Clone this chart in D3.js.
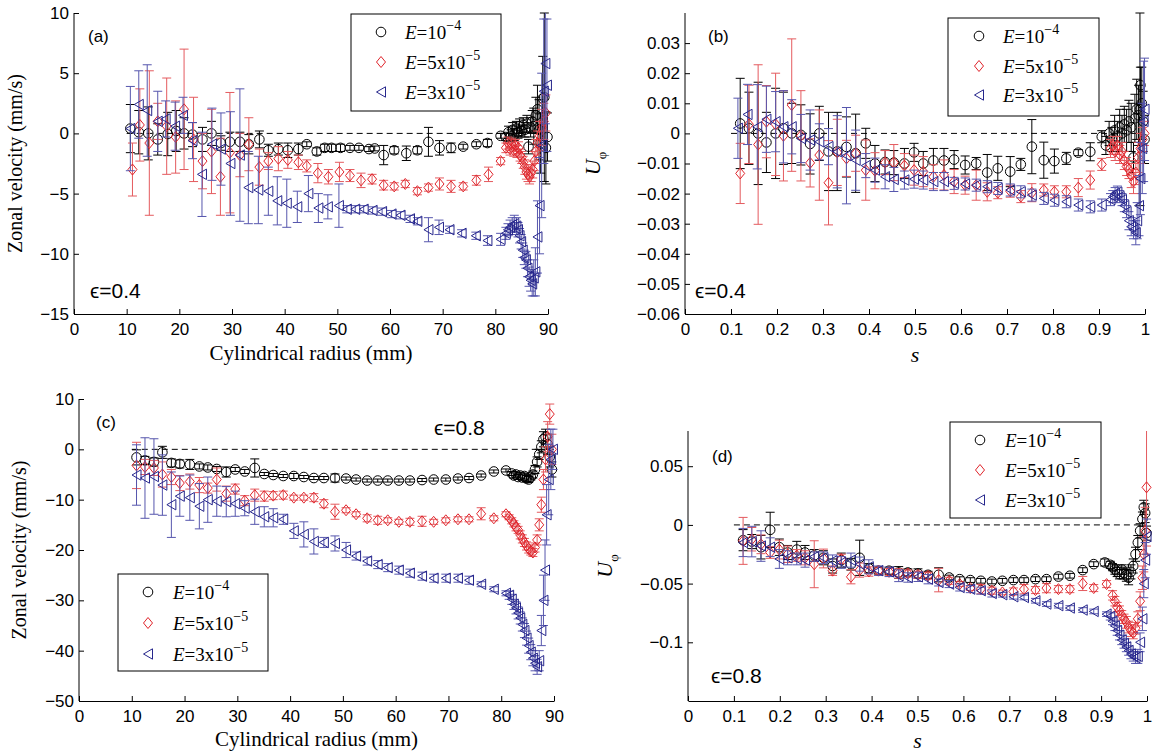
<!DOCTYPE html>
<html>
<head>
<meta charset="utf-8">
<script src="https://cdn.jsdelivr.net/npm/d3@7/dist/d3.min.js"></script>
<style>
  body { margin: 0; background: #fff; }
</style>
</head>
<body>
<svg id="fig" width="1153" height="755"></svg>
<script>
// each point: [radius or s, zonal velocity, error]
// panel (a) eps = 0.4, mm and mm/s
const a1e4 = [[10.7,0.4,2],[12.3,0.1,1.8],[14.1,0,2.2],[15.9,-0.5,1.3],[17.8,-0.05,1.8],[19.4,0.2,1.7],[20.9,0,1.3],[22.5,-0.1,1],[24.4,-0.5,1],[26.1,0,1],[27.9,-0.8,0.6],[29.6,-0.7,0.8],[31.5,-0.7,0.8],[33.2,-0.9,0.8],[35.2,-0.5,0.7],[36.9,-1.4,0.5],[38.8,-1.3,0.5],[40.6,-1.4,0.6],[42.6,-1.3,0.5],[44.2,-0.9,0.2],[46.1,-1.5,0.3],[47.6,-1.2,0.3],[48.9,-1.2,0.3],[50.6,-1.2,0.3],[52.4,-1.2,0.2],[54.1,-1.2,0.2],[56.0,-1.3,0.2],[57.1,-1.25,0.2],[58.8,-1.8,0.8],[60.8,-1.4,0.3],[63.1,-1.65,0.6],[65.2,-1.4,0.3],[67.3,-0.7,1.2],[69.4,-1.2,0.6],[71.6,-1.2,0.4],[73.9,-1.1,0.2],[76.4,-0.9,0.2],[78.5,-0.8,0.3],[81.0,-0.2,0.2],
  [82,-0.3,0.3],[82.5,0.1,0.5],[83,-0.2,0.5],[83.3,0.3,0.6],[83.6,-0.1,0.5],[84,0.4,0.6],[84.3,0.1,0.5],[84.6,0.6,0.6],[85,0.2,0.5],[85.3,0.7,0.6],[85.6,0.3,0.6],[86,0.8,0.7],[86.3,-1.1,0.6],[86.7,0.5,0.8],[87,1.0,0.9],[87.3,0.6,1.5],[87.7,1.5,1.5],[88,2.0,2],[88.3,0.3,2.5],[88.6,-0.8,2.5],[89,2.9,3.5],[89.3,3.0,7],[89.6,-1.2,3],[89.9,-0.3,2]];
const a5e5 = [[11.1,-3.0,2.2],[12.5,0.7,3],[14.3,-0.8,6],[15.9,1.0,1.5],[17.6,0.6,4],[19.3,-0.3,3],[20.9,2.0,5],[22.7,-0.5,3.5],[24.4,-2.3,2.3],[26.1,-1.5,3.5],[27.8,-3.6,3.2],[29.6,-1.6,5],[31.5,-1.8,1.8],[33.2,-0.9,2.2],[35.2,-2.8,1.5],[36.9,-2.3,0.7],[38.8,-2.1,1.0],[40.6,-2.2,0.7],[42.6,-2.4,0.6],[44.2,-2.7,0.5],[46.3,-3.3,0.8],[48.3,-3.6,0.6],[50.4,-3.2,0.8],[52.4,-3.5,0.5],[54.5,-3.9,0.6],[56.6,-3.8,0.4],[58.8,-4.3,0.4],[60.8,-4.4,0.3],[62.9,-4.2,0.3],[65.2,-4.8,0.3],[67.3,-4.5,0.3],[69.4,-4.2,0.5],[71.6,-4.4,0.5],[73.9,-4.4,0.3],[76.4,-3.9,0.4],[78.7,-3.4,0.6],[81.0,-2.3,0.3],
  [82,-1.2,0.4],[82.4,-0.8,0.5],[82.8,-1.3,0.5],[83.1,-0.9,0.5],[83.5,-1.4,0.5],[83.8,-1.0,0.5],[84.1,-1.5,0.5],[84.4,-1.2,0.5],[84.7,-1.8,0.5],[85,-2.0,0.5],[85.3,-2.4,0.5],[85.6,-2.8,0.6],[85.9,-3.2,0.6],[86.2,-3.4,0.6],[86.5,-3.6,0.6],[86.8,-3.3,0.7],[87.1,-3.0,0.7],[87.4,-2.3,0.8],[87.7,-1.5,1],[88,-0.8,1],[88.4,-0.2,1.2],[88.8,0.5,1.5],[89.2,1.0,1.5],[89.6,1.7,1.5]];
const a3e5 = [[10.7,0.4,3.5],[12.3,2.4,2.8],[13.9,1.9,3.8],[15.9,1.0,2.5],[17.4,1.2,1.5],[19.2,0.6,2],[20.7,1.5,1.5],[22.5,-0.6,1.5],[24.3,-3.4,3.5],[26.2,-0.9,3],[27.9,-1.3,3],[29.7,-2.5,4.3],[31.5,-1.8,5.5],[33.1,-4.5,3],[35.0,-4.7,2.8],[36.9,-4.8,2],[38.6,-5.6,2],[40.4,-5.8,2],[42.4,-6.1,1.3],[44.5,-5.0,1.5],[46.4,-6.2,1.2],[48.2,-6.1,1.0],[50.3,-6.0,1.8],[51.8,-6.3,0.3],[53.4,-6.3,0.3],[55.0,-6.3,0.3],[56.7,-6.4,0.3],[58.5,-6.5,0.3],[60.3,-6.7,0.3],[62.0,-6.8,0.3],[63.8,-7.1,0.3],[65.2,-7.3,0.3],[67.3,-8.0,1],[69.3,-7.8,0.6],[71.3,-8.0,0.3],[73.6,-8.3,0.3],[76.3,-8.5,0.3],[78.5,-8.9,0.4],[81.0,-8.8,0.5],
  [82,-8.3,0.5],[82.4,-8.0,0.5],[82.8,-7.8,0.6],[83.2,-7.6,0.6],[83.6,-7.5,0.7],[84,-7.7,0.7],[84.3,-8.0,0.6],[84.6,-8.5,0.6],[84.9,-9.0,0.6],[85.2,-9.7,0.6],[85.5,-10.3,0.6],[85.8,-10.5,0.7],[86.1,-11.2,0.7],[86.4,-11.9,0.8],[86.7,-12.2,0.9],[87,-12.5,1],[87.3,-12.0,1.5],[87.6,-11.5,2],[88,-8.6,3],[88.4,-6.0,4],[88.8,-1.0,6],[89.2,3.5,6],[89.5,5.8,5],[89.8,4.0,5.5]];

// panel (b) eps = 0.4, nondimensional
const b1e4 = [[0.12,0.0033,0.015],[0.139,0.0017,0.012],[0.159,0,0.017],[0.177,-0.003,0.01],[0.197,0,0.015],[0.214,0.0017,0.012],[0.232,0,0.01],[0.252,-0.0005,0.01],[0.272,-0.0035,0.01],[0.292,0,0.009],[0.312,-0.006,0.013],[0.331,-0.006,0.013],[0.351,-0.0045,0.01],[0.371,-0.0066,0.013],[0.393,-0.0033,0.005],[0.413,-0.01,0.006],[0.435,-0.0095,0.004],[0.454,-0.0097,0.004],[0.477,-0.01,0.005],[0.498,-0.0063,0.003],[0.518,-0.01,0.004],[0.54,-0.009,0.004],[0.563,-0.009,0.004],[0.585,-0.0087,0.003],[0.609,-0.0105,0.003],[0.633,-0.01,0.002],[0.657,-0.013,0.006],[0.68,-0.0116,0.004],[0.707,-0.0127,0.005],[0.73,-0.0103,0.002],[0.754,-0.0044,0.009],[0.78,-0.0089,0.006],[0.803,-0.0092,0.004],[0.829,-0.0083,0.002],[0.855,-0.0064,0.001],[0.881,-0.0061,0.003],[0.906,-0.0011,0.002],
  [0.915,-0.004,0.003],[0.922,0,0.004],[0.928,-0.002,0.004],[0.934,0.001,0.005],[0.94,-0.001,0.005],[0.945,0.002,0.006],[0.95,0,0.006],[0.955,0.003,0.006],[0.96,0.001,0.007],[0.965,0.004,0.007],[0.97,0.002,0.008],[0.975,-0.008,0.005],[0.978,0.005,0.008],[0.982,0.008,0.01],[0.986,0.006,0.01],[0.989,0.008,0.032],[0.99,0.016,0.006],[0.993,0.01,0.012],[0.996,0.004,0.01],[0.999,-0.002,0.008]];
const b5e5 = [[0.12,-0.0133,0.01],[0.139,0.003,0.013],[0.159,-0.0037,0.0265],[0.177,0.0039,0.012],[0.197,0.003,0.017],[0.214,-0.0008,0.015],[0.232,0.0094,0.022],[0.252,-0.0008,0.015],[0.272,-0.0098,0.008],[0.292,-0.0072,0.015],[0.312,-0.0164,0.014],[0.331,-0.0063,0.011],[0.351,-0.0083,0.006],[0.371,-0.0066,0.006],[0.393,-0.0122,0.01],[0.413,-0.0124,0.006],[0.435,-0.0097,0.004],[0.454,-0.0097,0.006],[0.477,-0.0107,0.004],[0.498,-0.0122,0.005],[0.518,-0.0127,0.005],[0.54,-0.0144,0.004],[0.563,-0.0138,0.005],[0.585,-0.016,0.004],[0.609,-0.0172,0.003],[0.633,-0.0172,0.005],[0.657,-0.0194,0.003],[0.68,-0.0197,0.002],[0.707,-0.0192,0.002],[0.73,-0.021,0.002],[0.754,-0.0197,0.003],[0.78,-0.0188,0.002],[0.803,-0.0194,0.002],[0.829,-0.0194,0.002],[0.855,-0.018,0.003],[0.881,-0.0155,0.003],[0.906,-0.0103,0.002],
  [0.925,-0.005,0.003],[0.93,-0.004,0.003],[0.935,-0.006,0.003],[0.94,-0.004,0.003],[0.945,-0.007,0.003],[0.95,-0.006,0.003],[0.955,-0.009,0.003],[0.96,-0.011,0.003],[0.965,-0.012,0.003],[0.97,-0.014,0.004],[0.975,-0.016,0.004],[0.98,-0.013,0.004],[0.985,-0.008,0.005],[0.99,-0.005,0.005],[0.995,-0.002,0.004],[0.999,0,0.004]];
const b3e5 = [[0.115,0.0017,0.01],[0.136,0.0063,0.01],[0.157,0.0022,0.014],[0.177,0.0047,0.011],[0.197,0.0039,0.01],[0.214,0.0022,0.012],[0.232,0.0022,0.009],[0.252,-0.0017,0.008],[0.272,-0.0022,0.01],[0.292,-0.0028,0.006],[0.312,-0.0044,0.006],[0.331,-0.0061,0.012],[0.351,-0.0074,0.016],[0.371,-0.0089,0.01],[0.393,-0.0107,0.004],[0.413,-0.0122,0.004],[0.435,-0.0144,0.004],[0.454,-0.0153,0.004],[0.477,-0.0155,0.003],[0.498,-0.0152,0.003],[0.518,-0.0155,0.003],[0.54,-0.016,0.003],[0.563,-0.016,0.003],[0.585,-0.0166,0.002],[0.609,-0.0168,0.002],[0.633,-0.0172,0.002],[0.657,-0.0177,0.002],[0.68,-0.0183,0.002],[0.707,-0.0188,0.002],[0.73,-0.0194,0.002],[0.754,-0.0205,0.002],[0.78,-0.0216,0.002],[0.803,-0.0222,0.002],[0.829,-0.0227,0.002],[0.855,-0.0238,0.002],[0.881,-0.0244,0.002],[0.906,-0.0238,0.002],
  [0.925,-0.022,0.002],[0.93,-0.021,0.002],[0.935,-0.02,0.002],[0.94,-0.0195,0.002],[0.945,-0.021,0.002],[0.95,-0.022,0.002],[0.955,-0.024,0.002],[0.96,-0.026,0.002],[0.965,-0.029,0.003],[0.97,-0.031,0.003],[0.975,-0.032,0.003],[0.98,-0.033,0.004],[0.983,-0.029,0.006],[0.987,-0.024,0.01],[0.99,-0.015,0.012],[0.994,-0.005,0.015],[0.997,0.004,0.02],[0.999,0.008,0.017]];

// panel (c) eps = 0.8, mm and mm/s
const c1e4 = [[10.9,-1.6,1.5],[12.5,-2.2,0.8],[14.2,-2.5,0.8],[15.8,-0.6,1.2],[17.5,-2.7,0.8],[19.1,-2.9,0.8],[21.0,-3.0,1.0],[22.8,-3.4,0.5],[24.4,-3.6,0.5],[26.1,-3.9,0.5],[27.9,-4.5,1.0],[29.6,-4.0,0.4],[31.4,-4.4,0.4],[33.3,-3.7,1.8],[35.1,-4.9,0.3],[36.8,-5.1,0.3],[38.7,-5.3,0.3],[40.7,-5.3,0.5],[42.6,-5.5,0.3],[44.5,-5.7,0.3],[46.4,-5.7,0.3],[48.5,-5.7,0.8],[50.6,-5.8,0.3],[52.5,-6.0,0.3],[54.6,-6.2,0.3],[56.6,-6.2,0.3],[58.5,-6.2,0.3],[60.6,-6.2,0.3],[62.7,-6.2,0.3],[65.0,-6.1,0.3],[67.2,-6.0,0.3],[69.5,-6.0,0.3],[71.8,-5.8,0.3],[73.9,-5.7,0.3],[76.2,-5.2,0.3],[78.6,-4.4,0.3],[80.9,-4.2,0.3],
  [82,-4.8,0.4],[82.4,-5.2,0.5],[82.8,-5.0,0.5],[83.2,-5.5,0.5],[83.6,-5.2,0.5],[84,-5.6,0.5],[84.4,-5.3,0.6],[84.8,-5.8,0.6],[85.2,-6.0,0.6],[85.6,-5.5,0.6],[86,-5.0,0.7],[86.4,-4.0,0.8],[86.8,-2.5,1],[87.2,-1.0,1],[87.6,0.5,1.2],[88,2.0,1.5],[88.4,2.5,1.5],[88.8,1.0,2],[89.2,-1.5,2],[89.6,-4.0,1.5]];
const c5e5 = [[10.9,-3.2,4.6],[12.5,-3.5,1.5],[14.2,-3.7,1.5],[15.8,-5.0,2.5],[17.5,-5.5,1.5],[19.1,-6.7,1.5],[21.0,-6.4,1.5],[22.8,-7.1,1.5],[24.4,-7.7,1.0],[26.1,-6.0,2.3],[27.9,-8.8,1.5],[29.6,-7.9,1.0],[31.4,-10.2,1.0],[33.3,-9.1,1.2],[35.1,-9.3,1.0],[36.8,-9.2,0.8],[38.7,-9.1,0.8],[40.7,-9.6,0.5],[42.6,-9.6,0.5],[44.5,-9.6,0.8],[46.4,-10.8,0.8],[48.5,-12.4,1.5],[50.6,-12.1,0.5],[52.5,-12.9,0.5],[54.6,-13.7,0.7],[56.6,-14.1,0.8],[58.5,-14.1,0.5],[60.6,-14.4,0.5],[62.7,-14.4,0.7],[65.0,-14.3,1.0],[67.2,-14.4,0.5],[69.5,-14.1,0.5],[71.8,-13.9,0.5],[73.9,-13.9,0.5],[76.2,-12.8,1.2],[78.6,-13.7,0.5],[80.9,-12.9,0.5],
  [81.5,-13.5,0.5],[82,-14.2,0.6],[82.4,-14.8,0.6],[82.8,-15.5,0.7],[83.2,-16.0,0.7],[83.6,-17.0,0.8],[84,-17.8,0.8],[84.4,-18.5,0.8],[84.8,-19.2,0.8],[85.2,-19.8,0.8],[85.6,-20.2,0.8],[86,-20.5,0.8],[86.4,-19.5,0.9],[86.8,-18.0,1],[87.2,-15.0,1.2],[87.6,-11.0,1.5],[88,-6.0,2],[88.4,-2.0,2.5],[88.8,2.5,3],[89.2,7.0,2],[89.6,0.0,3]];
const c3e5 = [[10.9,-5.1,6],[12.5,-5.7,8],[14.2,-5.4,7.5],[15.8,-7.1,6],[17.5,-11.0,6.5],[19.1,-9.3,4],[21.0,-9.6,4.5],[22.8,-11.3,4.5],[24.4,-10.0,4.5],[26.1,-10.3,3.0],[27.9,-10.4,3.0],[29.6,-10.8,2.5],[31.4,-11.7,1.5],[33.3,-12.4,2.5],[35.1,-13.4,2.0],[36.8,-13.6,1.8],[38.7,-13.9,1.0],[40.7,-16.2,1.5],[42.6,-16.9,2.5],[44.5,-18.3,2.5],[46.4,-18.5,1.0],[48.5,-18.7,1.5],[50.6,-20.0,1.5],[52.5,-21.2,0.8],[54.6,-22.2,0.8],[56.6,-22.9,0.8],[58.5,-23.5,0.8],[60.6,-24.0,0.8],[62.7,-24.6,0.8],[65.0,-25.2,0.8],[67.2,-25.6,0.8],[69.5,-25.6,0.8],[71.8,-25.6,0.8],[73.9,-26.0,0.8],[76.2,-26.8,0.5],[78.6,-27.8,0.5],[80.9,-28.6,0.5],
  [81.5,-29.0,0.8],[82,-29.8,1.0],[82.4,-30.8,1.0],[82.8,-31.5,1.2],[83.2,-32.5,1.2],[83.6,-33.5,1.2],[84,-34.8,1.3],[84.4,-36.0,1.4],[84.8,-37.5,1.4],[85.2,-39.0,1.5],[85.6,-40.3,1.5],[86,-41.5,1.5],[86.4,-42.5,1.5],[86.8,-43.2,1.5],[87.2,-42.0,2],[87.6,-36.0,3],[88,-30.0,5],[88.3,-24.0,6],[88.6,-13.0,6],[89,-6.0,7],[89.4,-2.0,6],[89.8,0.0,4]];

// panel (d) eps = 0.8, nondimensional
const d1e4 = [[0.12,-0.013,0.009],[0.139,-0.0142,0.006],[0.159,-0.019,0.01],[0.179,-0.0042,0.015],[0.199,-0.019,0.007],[0.217,-0.0235,0.006],[0.237,-0.021,0.007],[0.255,-0.0235,0.006],[0.275,-0.026,0.005],[0.295,-0.028,0.006],[0.315,-0.035,0.006],[0.334,-0.03,0.006],[0.355,-0.0335,0.005],[0.374,-0.028,0.015],[0.394,-0.037,0.004],[0.415,-0.039,0.003],[0.438,-0.039,0.003],[0.459,-0.0405,0.005],[0.479,-0.0405,0.003],[0.501,-0.0414,0.004],[0.523,-0.0425,0.003],[0.546,-0.0425,0.006],[0.569,-0.0448,0.002],[0.592,-0.0462,0.002],[0.615,-0.047,0.002],[0.638,-0.0476,0.002],[0.662,-0.0482,0.002],[0.685,-0.0476,0.002],[0.709,-0.047,0.002],[0.732,-0.047,0.002],[0.757,-0.0462,0.002],[0.781,-0.0462,0.002],[0.807,-0.044,0.002],[0.832,-0.0433,0.002],[0.86,-0.0385,0.002],[0.884,-0.0334,0.002],[0.908,-0.032,0.003],
  [0.92,-0.034,0.003],[0.925,-0.036,0.003],[0.93,-0.038,0.004],[0.935,-0.04,0.004],[0.94,-0.042,0.004],[0.945,-0.038,0.004],[0.95,-0.041,0.005],[0.955,-0.043,0.005],[0.96,-0.045,0.006],[0.965,-0.04,0.006],[0.97,-0.035,0.006],[0.975,-0.025,0.006],[0.98,-0.015,0.006],[0.985,-0.005,0.006],[0.99,0.005,0.006],[0.993,0.015,0.006],[0.996,0.01,0.008],[0.999,-0.007,0.006]];
const d5e5 = [[0.12,-0.0136,0.02],[0.139,-0.0122,0.01],[0.159,-0.0165,0.008],[0.179,-0.0235,0.005],[0.199,-0.021,0.008],[0.217,-0.025,0.007],[0.237,-0.026,0.005],[0.255,-0.028,0.006],[0.275,-0.0335,0.02],[0.295,-0.0286,0.008],[0.315,-0.039,0.004],[0.334,-0.029,0.004],[0.355,-0.0442,0.006],[0.374,-0.0385,0.006],[0.394,-0.0397,0.004],[0.415,-0.039,0.003],[0.438,-0.04,0.003],[0.459,-0.0414,0.004],[0.479,-0.0414,0.003],[0.501,-0.0425,0.003],[0.523,-0.0433,0.003],[0.546,-0.047,0.01],[0.569,-0.0476,0.003],[0.592,-0.0504,0.002],[0.615,-0.0538,0.002],[0.638,-0.0547,0.004],[0.662,-0.056,0.003],[0.685,-0.0575,0.002],[0.709,-0.0567,0.003],[0.732,-0.0547,0.004],[0.757,-0.0555,0.003],[0.781,-0.0538,0.004],[0.807,-0.0547,0.003],[0.832,-0.0547,0.003],[0.86,-0.0499,0.006],[0.884,-0.0538,0.003],[0.912,-0.0504,0.003],
  [0.925,-0.06,0.004],[0.93,-0.065,0.004],[0.935,-0.07,0.004],[0.94,-0.073,0.004],[0.945,-0.077,0.004],[0.95,-0.08,0.004],[0.955,-0.083,0.005],[0.96,-0.087,0.005],[0.965,-0.09,0.005],[0.97,-0.092,0.005],[0.975,-0.088,0.005],[0.98,-0.08,0.006],[0.985,-0.065,0.008],[0.99,-0.045,0.01],[0.993,-0.025,0.015],[0.996,-0.005,0.02],[0.999,0.032,0.05]];
const d3e5 = [[0.12,-0.015,0.012],[0.139,-0.0142,0.013],[0.159,-0.018,0.013],[0.179,-0.019,0.008],[0.199,-0.029,0.008],[0.217,-0.028,0.006],[0.237,-0.029,0.005],[0.255,-0.03,0.006],[0.275,-0.027,0.004],[0.295,-0.028,0.005],[0.315,-0.0306,0.005],[0.334,-0.032,0.005],[0.355,-0.03,0.006],[0.374,-0.0334,0.006],[0.394,-0.0357,0.006],[0.415,-0.039,0.004],[0.438,-0.04,0.004],[0.459,-0.0433,0.005],[0.479,-0.0448,0.004],[0.501,-0.0442,0.004],[0.523,-0.0462,0.004],[0.546,-0.049,0.003],[0.569,-0.0504,0.003],[0.592,-0.0533,0.003],[0.615,-0.0547,0.003],[0.638,-0.056,0.003],[0.662,-0.0584,0.003],[0.685,-0.0595,0.002],[0.709,-0.0612,0.002],[0.732,-0.0618,0.002],[0.757,-0.0646,0.002],[0.781,-0.0674,0.002],[0.807,-0.0688,0.002],[0.832,-0.0708,0.002],[0.86,-0.0725,0.002],[0.884,-0.0737,0.002],[0.912,-0.076,0.002],
  [0.92,-0.078,0.003],[0.925,-0.082,0.003],[0.93,-0.086,0.004],[0.935,-0.09,0.004],[0.94,-0.094,0.004],[0.945,-0.098,0.004],[0.95,-0.101,0.004],[0.955,-0.104,0.004],[0.96,-0.107,0.004],[0.965,-0.11,0.004],[0.97,-0.112,0.004],[0.975,-0.113,0.005],[0.98,-0.112,0.006],[0.985,-0.1,0.008],[0.99,-0.08,0.01],[0.993,-0.05,0.012],[0.996,-0.03,0.015],[0.999,-0.01,0.015]];

// axis ticks
const mmTicks = [0, 10, 20, 30, 40, 50, 60, 70, 80, 90];
const sTicks = [0, 0.1, 0.2, 0.3, 0.4, 0.5, 0.6, 0.7, 0.8, 0.9, 1];
const aYTicks = [-15, -10, -5, 0, 5, 10];
const bYTicks = [-0.06, -0.05, -0.04, -0.03, -0.02, -0.01, 0, 0.01, 0.02, 0.03];
const cYTicks = [-50, -40, -30, -20, -10, 0, 10];
const dYTicks = [-0.1, -0.05, 0, 0.05];

// legend entries: Ekman number mantissa / exponent
const legendLabels = [["10", "\u22124"], ["5x10", "\u22125"], ["3x10", "\u22125"]];

const SANS = "'Liberation Sans', Arial, Helvetica, sans-serif";
const SERIF = "'Liberation Serif', 'Times New Roman', serif";

const styles = [
  { shape: "circle", mark: "#000", bar: "#000" },
  { shape: "diamond", mark: "#e0242b", bar: "#e45a5e" },
  { shape: "triangle", mark: "#26268c", bar: "#5656ad" },
];

const svg = d3.select("#fig");

function marker(g, shape, color, cx, cy) {
  if (shape === "circle") {
    g.append("circle").attr("cx", cx).attr("cy", cy).attr("r", 4.8)
      .attr("fill", "none").attr("stroke", color).attr("stroke-width", 1);
  } else if (shape === "diamond") {
    g.append("path")
      .attr("d", `M${cx},${cy - 5.5}L${cx + 4.5},${cy}L${cx},${cy + 5.5}L${cx - 4.5},${cy}Z`)
      .attr("fill", "none").attr("stroke", color).attr("stroke-width", 1);
  } else {
    g.append("path")
      .attr("d", `M${cx - 4.5},${cy}L${cx + 4.5},${cy - 5.2}L${cx + 4.5},${cy + 5.2}Z`)
      .attr("fill", "none").attr("stroke", color).attr("stroke-width", 1);
  }
}

function drawPanel(p) {
  const g = svg.append("g");
  const x = d3.scaleLinear().domain(p.xDomain).range([p.left, p.right]);
  const y = d3.scaleLinear().domain(p.yDomain).range([p.bottom, p.top]);
  const fmt = (v) => (v === 0 ? "0" : d3.format("")(v));

  // dashed zero line
  g.append("line")
    .attr("x1", x(p.dashFrom)).attr("x2", x(p.xDomain[1]))
    .attr("y1", y(0)).attr("y2", y(0))
    .attr("stroke", "#000").attr("stroke-width", 1)
    .attr("stroke-dasharray", "6,4");

  // series, black first then red then blue
  p.series.forEach((data, i) => {
    const st = styles[i];
    const sg = g.append("g");
    data.forEach(([xv, yv, e]) => {
      const px = x(xv);
      const y1 = Math.max(y(yv + e), p.top);
      const y2 = Math.min(y(yv - e), p.bottom);
      sg.append("line").attr("x1", px).attr("x2", px).attr("y1", y1).attr("y2", y2)
        .attr("stroke", st.bar).attr("stroke-width", 1);
      [yv + e, yv - e].forEach((v) => {
        const py = y(v);
        if (py < p.top || py > p.bottom) return;
        sg.append("line").attr("x1", px - 4.5).attr("x2", px + 4.5)
          .attr("y1", py).attr("y2", py)
          .attr("stroke", st.bar).attr("stroke-width", 1);
      });
    });
    data.forEach(([xv, yv]) => marker(sg, st.shape, st.mark, x(xv), y(yv)));
  });

  // axes, matlab style: inward ticks, no box
  const xAxis = g.append("g")
    .attr("transform", `translate(0,${p.bottom})`)
    .call(d3.axisBottom(x).tickValues(p.xTicks).tickSizeInner(-5).tickSizeOuter(0)
      .tickPadding(9).tickFormat(fmt));
  const yAxis = g.append("g")
    .attr("transform", `translate(${p.left},0)`)
    .call(d3.axisLeft(y).tickValues(p.yTicks).tickSizeInner(-5).tickSizeOuter(0)
      .tickPadding(5).tickFormat(fmt));
  [xAxis, yAxis].forEach((ax) => {
    ax.selectAll("text").attr("font-family", SANS).attr("font-size", 17).attr("fill", "#000");
    ax.selectAll("line, path").attr("stroke", "#000").attr("stroke-width", 1);
  });
  yAxis.select(".domain").attr("d", `M0,${p.bottom}V${p.top}`);

  // panel tag and epsilon
  g.append("text").attr("x", p.tag[0]).attr("y", p.tag[1])
    .attr("font-family", SANS).attr("font-size", 17).text(p.tag[2]);
  g.append("text").attr("x", p.eps[0]).attr("y", p.eps[1])
    .attr("font-family", SANS).attr("font-size", 21).text(p.eps[2]);

  // x label
  const xl = g.append("text")
    .attr("x", (p.left + p.right) / 2).attr("y", p.xLabelY)
    .attr("text-anchor", "middle").attr("font-family", SERIF);
  if (p.dimensional) {
    xl.attr("font-size", 21).text("Cylindrical radius (mm)");
  } else {
    xl.attr("font-size", 22).attr("font-style", "italic").text("s");
  }

  // y label
  const yl = g.append("text")
    .attr("transform", `translate(${p.yLabelX},${(p.top + p.bottom) / 2}) rotate(-90)`)
    .attr("text-anchor", "middle").attr("font-family", SERIF);
  if (p.dimensional) {
    yl.attr("font-size", 20).text("Zonal velocity (mm/s)");
  } else {
    yl.append("tspan").attr("font-size", 22).attr("font-style", "italic").text("U");
    yl.append("tspan").attr("font-size", 13).attr("dy", 6).text("\u03c6");
  }

  // legend
  const L = p.legend;
  const lg = g.append("g");
  lg.append("rect").attr("x", L.x0).attr("y", L.y0)
    .attr("width", L.x1 - L.x0).attr("height", L.y1 - L.y0)
    .attr("fill", "#fff").attr("stroke", "#000").attr("stroke-width", 1);
  legendLabels.forEach(([mant, expo], i) => {
    const ry = L.rows[i];
    marker(lg, styles[i].shape, styles[i].mark, L.mx, ry);
    const t = lg.append("text").attr("x", L.tx).attr("y", ry + 7)
      .attr("font-family", SERIF).attr("font-size", 19);
    t.append("tspan").attr("font-style", "italic").text("E");
    t.append("tspan").text("=" + mant);
    t.append("tspan").attr("font-size", 14).attr("dy", -9).text(expo);
  });
}

drawPanel({
  left: 74, right: 548, top: 13, bottom: 314,
  xDomain: [0, 90], yDomain: [-15, 10], dashFrom: 10,
  xTicks: mmTicks, yTicks: aYTicks, dimensional: true,
  series: [a1e4, a5e5, a3e5],
  tag: [88, 42, "(a)"], eps: [90, 298, "\u03f5=0.4"],
  xLabelY: 360, yLabelX: 22,
  legend: { x0: 351, y0: 14, x1: 501, y1: 111, mx: 381, tx: 405, rows: [32, 62, 92] },
});

drawPanel({
  left: 685, right: 1145, top: 13, bottom: 314,
  xDomain: [0, 1], yDomain: [-0.06, 0.04], dashFrom: 0.1,
  xTicks: sTicks, yTicks: bYTicks, dimensional: false,
  series: [b1e4, b5e5, b3e5],
  tag: [708, 42, "(b)"], eps: [695, 298, "\u03f5=0.4"],
  xLabelY: 362, yLabelX: 600,
  legend: { x0: 948, y0: 18, x1: 1099, y1: 116, mx: 979, tx: 1003, rows: [36, 66, 95] },
});

drawPanel({
  left: 79, right: 554, top: 399, bottom: 701,
  xDomain: [0, 90], yDomain: [-50, 10], dashFrom: 10,
  xTicks: mmTicks, yTicks: cYTicks, dimensional: true,
  series: [c1e4, c5e5, c3e5],
  tag: [96, 428, "(c)"], eps: [434, 435, "\u03f5=0.8"],
  xLabelY: 746, yLabelX: 26,
  legend: { x0: 118, y0: 574, x1: 268, y1: 671, mx: 148, tx: 173, rows: [592, 623, 654] },
});

drawPanel({
  left: 688, right: 1147, top: 431, bottom: 701,
  xDomain: [0, 1], yDomain: [-0.15, 0.08], dashFrom: 0.1,
  xTicks: sTicks, yTicks: dYTicks, dimensional: false,
  series: [d1e4, d5e5, d3e5],
  tag: [712, 462, "(d)"], eps: [711, 683, "\u03f5=0.8"],
  xLabelY: 748, yLabelX: 612,
  legend: { x0: 950, y0: 422, x1: 1101, y1: 518, mx: 980, tx: 1005, rows: [440, 470, 500] },
});
</script>
</body>
</html>
